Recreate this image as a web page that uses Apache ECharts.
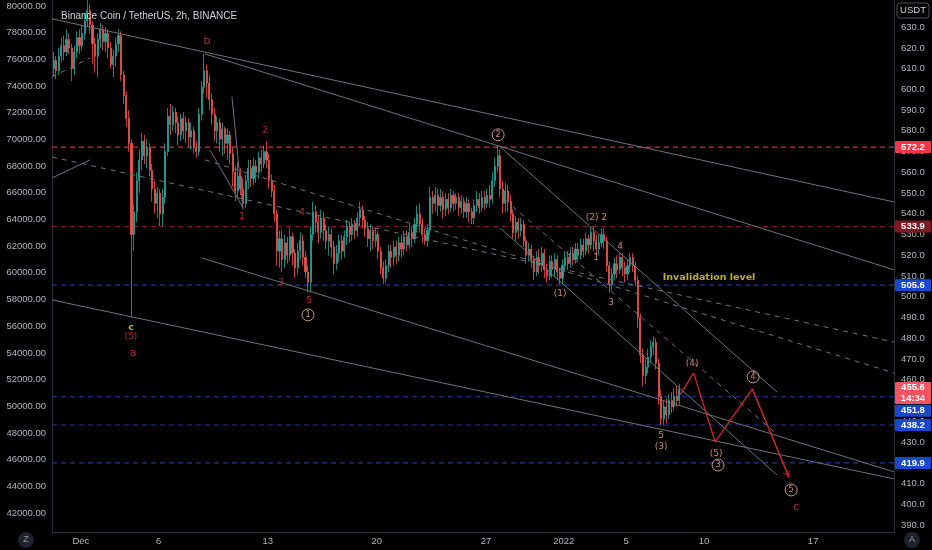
<!DOCTYPE html>
<html>
<head>
<meta charset="utf-8">
<script src="https://cdn.jsdelivr.net/npm/echarts@6/dist/echarts.min.js"></script>
<style>
html, body { margin: 0; padding: 0; background: #000; }
#chart { width: 932px; height: 550px; }
</style>
</head>
<body>
<div id="chart"></div>
<script>
// 4h bars starting Nov 29 04:00 (day 0 = Dec 1 00:00), rows are [open, close, low, high]
var firstBarDay = -1.8333;
var barDays = 1 / 6;
var candles = [
  [610,614,606,618],[614,609,605,616],[609,616,607,620],[616,621,613,625],[621,618,614,626],[618,624,616,629],
  [624,620,617,627],[620,610,604,622],[610,618,607,621],[618,625,615,628],[625,621,617,629],[621,627,619,631],
  [627,633,624,637],[633,638,630,643],[638,631,627,641],[631,622,612,633],[622,616,608,625],[616,624,606,627],
  [624,629,620,632],[629,623,619,631],[623,627,618,630],[627,620,615,629],[620,612,610,623],[612,616,606,619],
  [616,622,611,625],[622,626,618,629],[626,607,604,628],[607,597,593,609],[597,586,582,599],[586,574,570,590],
  [574,530,490,576],[530,541,522,545],[541,556,536,560],[556,566,550,571],[566,575,561,579],[575,568,564,578],
  [568,572,562,576],[572,561,558,574],[561,552,546,564],[552,545,540,556],[545,550,538,553],[550,540,534,552],
  [540,548,534,552],[548,570,545,574],[570,587,568,591],[587,583,578,593],[583,589,580,592],[589,584,579,591],
  [584,578,573,587],[578,586,575,588],[586,580,576,589],[580,584,574,587],[584,577,572,586],[577,580,571,584],
  [580,572,569,582],[572,570,567,575],[570,588,568,591],[588,601,585,604],[601,609,598,617],[609,603,596,612],
  [603,595,590,607],[595,588,583,598],[588,580,575,591],[580,584,574,587],[584,576,570,586],[576,581,568,584],
  [581,574,569,582],[574,578,566,581],[578,569,564,580],[569,560,553,572],[560,551,546,563],[551,558,548,565],
  [558,552,549,562],[552,545,543,557],[545,556,543,559],[556,562,552,566],[562,557,553,566],[557,563,554,567],
  [563,560,555,566],[560,567,557,570],[567,564,560,571],[564,570,562,573],[570,566,562,575],[566,556,552,569],
  [556,551,548,559],[551,540,536,554],[540,522,515,542],[522,528,514,532],[528,518,512,532],[518,526,514,530],
  [526,520,516,529],[520,529,517,533],[529,521,515,531],[521,514,509,523],[514,522,511,526],[522,527,518,531],
  [527,519,515,530],[519,512,509,522],[512,507,502,515],[507,530,502,534],[530,541,527,546],[541,536,531,544],
  [536,531,526,539],[531,538,528,542],[538,532,527,541],[532,527,523,535],[527,530,520,534],[530,524,519,533],
  [524,516,511,527],[516,521,513,525],[521,527,517,530],[527,522,518,530],[522,529,519,532],[529,534,525,537],
  [534,530,526,536],[530,535,527,538],[535,532,528,537],[532,538,529,541],[538,542,534,546],[542,537,533,544],
  [537,533,529,539],[533,528,524,536],[528,532,522,535],[532,527,523,534],[527,530,524,533],[530,522,518,532],
  [522,514,511,524],[514,509,506,517],[509,515,507,518],[515,522,512,525],[522,519,514,525],[519,524,515,527],
  [524,520,516,527],[520,526,517,529],[526,523,519,530],[523,529,520,532],[529,525,522,532],[525,531,523,535],
  [531,528,524,534],[528,535,526,538],[535,540,531,544],[540,535,531,545],[535,530,526,538],[530,527,525,533],
  [527,532,524,535],[532,548,530,553],[548,545,540,551],[545,549,541,553],[549,544,539,552],[544,548,541,552],
  [548,542,538,551],[542,547,539,550],[547,543,540,550],[543,549,541,552],[549,545,541,551],[545,548,542,550],
  [548,543,539,550],[543,546,540,549],[546,541,538,548],[541,545,538,548],[545,541,536,547],[541,538,535,543],
  [538,544,535,547],[544,547,541,551],[547,543,540,550],[543,548,541,551],[548,545,542,551],[545,549,543,552],
  [549,547,543,554],[547,556,545,560],[556,563,553,567],[563,568,560,573],[568,552,548,571],[552,545,540,556],
  [545,551,541,555],[551,546,541,554],[546,540,536,549],[540,531,528,542],[531,536,527,539],[536,532,528,538],
  [532,535,529,538],[535,527,524,537],[527,520,516,529],[520,523,517,526],[523,518,514,525],[518,512,508,520],
  [512,519,510,522],[519,515,511,523],[515,521,512,524],[521,513,509,523],[513,510,507,516],[510,517,508,520],
  [517,513,509,520],[513,518,510,521],[518,512,508,520],[512,509,506,514],[509,515,506,518],[515,519,512,522],
  [519,516,513,522],[516,521,514,524],[521,518,515,524],[518,523,516,526],[523,520,517,526],[520,525,518,528],
  [525,522,519,528],[522,528,520,531],[528,525,521,530],[525,531,523,534],[531,527,522,534],[527,523,520,530],
  [523,526,520,530],[526,530,524,533],[530,527,523,533],[527,515,512,529],[515,506,502,517],[506,511,503,514],
  [511,516,508,519],[516,513,509,520],[513,519,511,521],[519,514,510,521],[514,511,507,517],[511,515,508,518],
  [515,519,512,521],[519,515,512,521],[515,508,505,517],[508,490,485,510],[490,472,468,492],[472,462,457,475],
  [462,466,458,470],[466,471,463,475],[471,476,468,479],[476,478,472,481],[478,468,465,480],[468,452,448,470],
  [452,441,438,455],[441,447,438,450],[447,443,439,451],[443,450,441,453],[450,447,444,454],[447,452,445,456],
  [452,450,447,457],[450,455.6,448,458]
];

var dayTicks = [0, 5, 12, 19, 26, 31, 35, 40, 47];
var dayTickLabels = ['Dec', '6', '13', '20', '27', '2022', '5', '10', '17'];
var priceTicks = [390, 400, 410, 420, 430, 440, 450, 460, 470, 480, 490, 500, 510, 520, 530,
  540, 550, 560, 570, 580, 590, 600, 610, 620, 630, 640];
var leftTicks = [42000, 44000, 46000, 48000, 50000, 52000, 54000, 56000, 58000, 60000,
  62000, 64000, 66000, 68000, 70000, 72000, 74000, 76000, 78000, 80000];

var levels = [572.2, 533.9, 505.6, 451.8, 438.2, 419.9];
var lastPrice = 455.6;
var lastCountdown = '14:34';

// trend lines as [day1, price1, day2, price2]
var solidLines = [
  [-1.85, 634.0, 52.19, 545.7],
  [7.97, 617.1, 52.19, 513.0],
  [26.78, 573.2, 44.68, 454.1],
  [26.91, 533.2, 44.68, 414.1],
  [-1.85, 498.5, 52.19, 412.2],
  [7.78, 518.7, 52.19, 415.6],
  [-1.85, 557.3, 0.59, 566.0],
  [9.70, 596.4, 10.41, 541.9],
  [8.29, 570.8, 10.41, 542.9]
];
var dashedLines = [
  [-1.85, 567.4, 52.19, 478.2],
  [7.97, 566.0, 52.19, 463.3],
  [27.23, 546.7, 44.74, 433.4],
  [-1.85, 606.0, 0.59, 615.2]
];
var projection = [[38.46, 452.7], [39.33, 463.3], [40.71, 430.0], [43.10, 455.6], [45.46, 412.7]];

// wave labels as [day, price, text]
var waveLetters = [[8.10, 623.4, 'b'], [3.35, 472.9, 'a'], [45.91, 398.7, 'c']];
var redNotes = [
  [3.22, 480.7, '(5)'], [11.82, 580.0, '2'], [10.35, 538.5, '1'], [12.85, 506.7, '3'],
  [14.20, 540.4, '4'], [14.65, 498.0, '5']
];
var yellowNotes = [[3.22, 485.0, 'c'], [40.32, 509.1, 'Invalidation level']];
var peachNotes = [
  [32.81, 538.0, '(2)'], [33.58, 538.0, '2'], [33.07, 518.7, '1'], [30.76, 501.4, '(1)'],
  [34.03, 497.0, '3'], [34.61, 524.1, '4'], [39.23, 467.6, '(4)'], [37.24, 432.9, '5'],
  [37.24, 427.6, '(3)'], [40.77, 424.2, '(5)']
];
var circledNotes = [
  [14.58, 491.3, '1'], [26.78, 578.1, '2'], [40.90, 418.9, '3'], [43.15, 461.4, '4'], [45.59, 406.9, '5']
];

var chart = echarts.init(document.getElementById('chart'));
var axisFont = 'Liberation Sans';
var lineGray = '#6f727c';

var candleData = candles.map(function (c, i) {
  return [firstBarDay + (i + 0.5) * barDays, c[0], c[1], c[2], c[3]];
});

var series = [{
  type: 'candlestick',
  yAxisIndex: 0,
  data: candleData,
  barWidth: 1.6,
  z: 2,
  itemStyle: {
    color: '#26a69a', color0: '#ef5350',
    borderColor: '#26a69a', borderColor0: '#ef5350', borderWidth: 0.8
  }
}];

var levelLine = ['#c8323f', '#7a1f2b', '#1b3b9a', '#1b3b9a', '#1b3b9a', '#1b3b9a'];
var levelBox = ['#f23645', '#801922', '#1848cc', '#1848cc', '#1848cc', '#1848cc'];
levels.forEach(function (v, i) {
  series.push({
    type: 'line', yAxisIndex: 0, symbol: 'none', silent: true, z: 1,
    data: [[-1.85, v], [52.19, v]],
    lineStyle: { color: levelLine[i], width: 1.2, type: [5, 4] }
  });
});

solidLines.forEach(function (l) {
  series.push({
    type: 'line', yAxisIndex: 0, symbol: 'none', silent: true, z: 3,
    data: [[l[0], l[1]], [l[2], l[3]]],
    lineStyle: { color: lineGray, width: 1 }
  });
});
dashedLines.forEach(function (l) {
  series.push({
    type: 'line', yAxisIndex: 0, symbol: 'none', silent: true, z: 3,
    data: [[l[0], l[1]], [l[2], l[3]]],
    lineStyle: { color: lineGray, width: 1, type: [5, 5] }
  });
});

series.push({
  type: 'line', yAxisIndex: 0, symbol: 'none', silent: true, z: 4,
  data: projection,
  lineStyle: { color: '#d1262f', width: 1.3 }
});
series.push({
  type: 'lines', coordinateSystem: 'cartesian2d', yAxisIndex: 0, silent: true, z: 4,
  symbol: ['none', 'arrow'], symbolSize: 7,
  data: [{ coords: projection.slice(-2) }],
  lineStyle: { color: '#d1262f', width: 1.3 }
});

function notes(list, color, size, weight) {
  return {
    type: 'scatter', yAxisIndex: 0, silent: true, z: 5,
    symbol: 'circle', symbolSize: 1,
    itemStyle: { color: 'rgba(0,0,0,0)' },
    data: list,
    label: {
      show: true, position: 'inside',
      formatter: function (p) { return p.value[2]; },
      color: color, fontSize: size, fontWeight: weight, fontFamily: 'DejaVu Sans'
    }
  };
}
series.push(notes(waveLetters, '#d9363a', 11, 'normal'));
series.push(notes(redNotes, '#d9363a', 9, 'normal'));
series.push(notes(yellowNotes, '#e8d44d', 9.5, 'bold'));
series.push(notes(peachNotes, '#f4a88a', 9, 'normal'));
series.push({
  type: 'scatter', yAxisIndex: 0, silent: true, z: 5,
  symbol: 'circle', symbolSize: 12,
  itemStyle: { color: 'rgba(0,0,0,0)', borderColor: '#f4b69a', borderWidth: 1 },
  data: circledNotes,
  label: {
    show: true, position: 'inside',
    formatter: function (p) { return p.value[2]; },
    color: '#f4b69a', fontSize: 8, fontFamily: 'DejaVu Sans'
  }
});

chart.setOption({
  backgroundColor: '#000',
  animation: false,
  title: {
    text: 'Binance Coin / TetherUS, 2h, BINANCE',
    left: 56, top: 6,
    textStyle: { color: '#d1d4dc', fontSize: 10, fontWeight: 'normal', fontFamily: axisFont }
  },
  grid: { left: 52, right: 38, top: 0, bottom: 18 },
  xAxis: {
    type: 'value', min: -1.85, max: 52.19,
    axisLine: { show: true, onZero: false, lineStyle: { color: '#2a2e39' } },
    axisTick: { show: false },
    splitLine: { show: false },
    axisLabel: {
      customValues: dayTicks, margin: 4,
      color: '#b2b5be', fontSize: 9.5, fontFamily: axisFont,
      formatter: function (v) { return dayTickLabels[dayTicks.indexOf(v)]; }
    }
  },
  yAxis: [{
    type: 'value', position: 'right', min: 386.6, max: 643.1,
    axisLine: { show: true, onZero: false, lineStyle: { color: '#2a2e39' } },
    axisTick: { show: false },
    splitLine: { show: false },
    axisLabel: {
      customValues: priceTicks, margin: 7,
      color: '#b2b5be', fontSize: 9.5, fontFamily: axisFont,
      formatter: function (v) { return v.toFixed(1); }
    }
  }, {
    type: 'value', position: 'left', min: 40576, max: 80450,
    axisLine: { show: true, onZero: false, lineStyle: { color: '#2a2e39' } },
    axisTick: { show: false },
    splitLine: { show: false },
    axisLabel: {
      customValues: leftTicks, margin: 6,
      color: '#b2b5be', fontSize: 9.5, fontFamily: axisFont,
      formatter: function (v) { return v.toFixed(2); }
    }
  }],
  series: series
});

// price tags on the right scale, placed through the axis scale
var tags = [];
function tag(v, text, fill, nudge, h) {
  var y = chart.convertToPixel({ yAxisIndex: 0 }, v) + (nudge || 0);
  h = h || 12;
  tags.push({ type: 'rect', z: 100, shape: { x: 895, y: y - h / 2, width: 36, height: h, r: 1 }, style: { fill: fill } });
  tags.push({
    type: 'text', z: 101,
    style: { text: text, x: 913, y: y, align: 'center', verticalAlign: 'middle', fill: '#fff',
      font: 'bold 9.5px Liberation Sans', lineHeight: 11 }
  });
}
levels.forEach(function (v, i) {
  tag(v, v.toFixed(1), levelBox[i], v === 451.8 ? 14 : 0);
});
tag(lastPrice, lastPrice.toFixed(1) + '\n' + lastCountdown, '#f7525f', 4, 22);

tags.push({ type: 'rect', z: 100, shape: { x: 897, y: 3, width: 32, height: 15, r: 3 },
  style: { fill: '#000', stroke: '#50535e', lineWidth: 1 } });
tags.push({ type: 'text', z: 101, style: { text: 'USDT', x: 913, y: 10.5, align: 'center', verticalAlign: 'middle',
  fill: '#d1d4dc', font: '9.5px Liberation Sans' } });
tags.push({ type: 'circle', z: 100, shape: { cx: 26, cy: 540, r: 8 }, style: { fill: '#1e222d' } });
tags.push({ type: 'text', z: 101, style: { text: 'Z', x: 26, y: 540, align: 'center', verticalAlign: 'middle',
  fill: '#9598a1', font: '9px Liberation Sans' } });
tags.push({ type: 'circle', z: 100, shape: { cx: 912, cy: 540, r: 8 }, style: { fill: '#1e222d' } });
tags.push({ type: 'text', z: 101, style: { text: 'A', x: 912, y: 540, align: 'center', verticalAlign: 'middle',
  fill: '#9598a1', font: '9px Liberation Sans' } });

chart.setOption({ graphic: tags });
</script>
</body>
</html>
